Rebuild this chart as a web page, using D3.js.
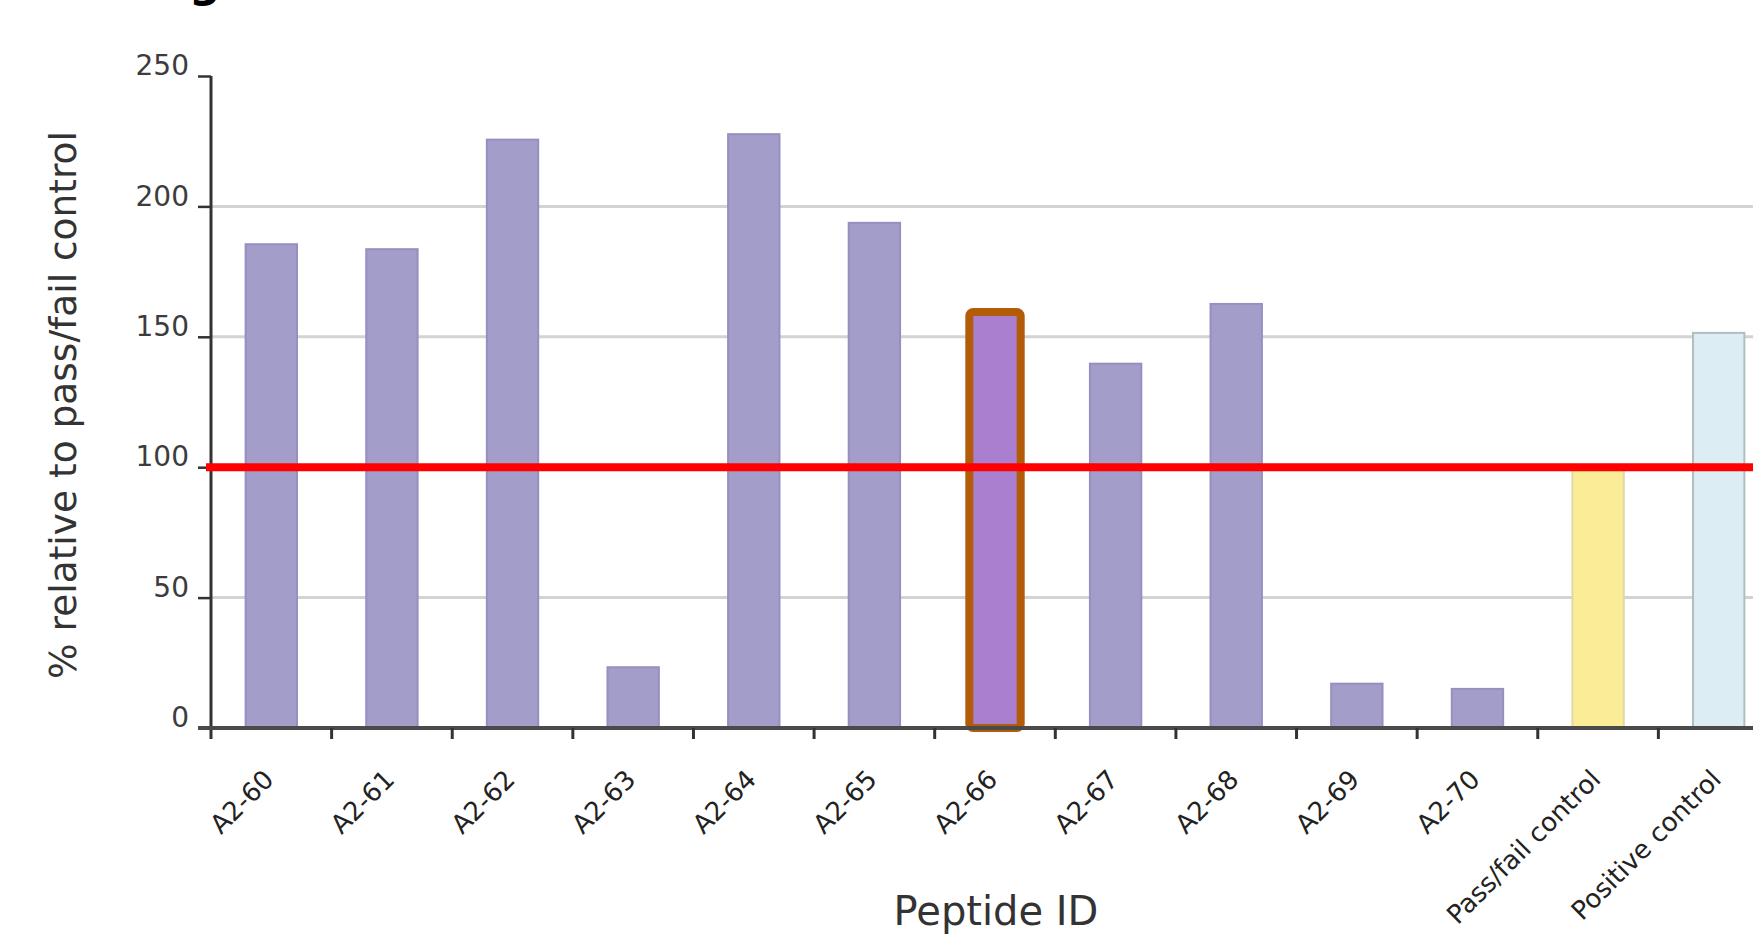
<!DOCTYPE html>
<html>
<head>
<meta charset="utf-8">
<script src="https://cdn.jsdelivr.net/npm/d3@7"></script>
<style>
  html, body { margin: 0; padding: 0; background: #fff; overflow: hidden; }
  svg { display: block; }
</style>
</head>
<body>
<script>
// ---- data ----
const categories = ["A2-60","A2-61","A2-62","A2-63","A2-64","A2-65","A2-66","A2-67","A2-68","A2-69","A2-70","Pass/fail control","Positive control"];
const values     = [185.5, 183.6, 225.6, 23.3, 227.7, 193.7, 159.5, 139.7, 162.6, 17.0, 15.0, 100, 151.5];
const yTicks     = [0, 50, 100, 150, 200, 250];
const gridTicks  = [50, 100, 150, 200];
const threshold  = 100;
const highlighted = "A2-66";
const xTitle = "Peptide ID";
const yTitle = "% relative to pass/fail control";

// ---- layout ----
const W = 1753, H = 934;
const svg = d3.select("body").append("svg").attr("width", W).attr("height", H);

const x = d3.scaleBand().domain(categories).range([211, 1779]).paddingInner(0.574).paddingOuter(0.287);
const y = d3.scaleLinear().domain([0, 250]).range([728, 76]);
const step = x.step(), bw = x.bandwidth();

function fillFor(c) {
  if (c === highlighted) return "#ab7fcf";
  if (c === "Pass/fail control") return "#fbed98";
  if (c === "Positive control") return "#dcedf3";
  return "#a39dc9";
}
function strokeFor(c) {
  if (c === highlighted) return "#b35c07";
  if (c === "Pass/fail control") return "#e2d8a0";
  if (c === "Positive control") return "#b0bec2";
  return "#9690c0";
}

// cropped title fragment at top (cut off in the original figure too)
svg.append("text").attr("x", 189).attr("y", -3)
  .attr("font-family", "DejaVu Sans").attr("font-weight", "bold").attr("font-size", 44)
  .attr("fill", "#000").text("g");

// gridlines
svg.append("g").selectAll("line").data(gridTicks).join("line")
  .attr("x1", x.range()[0]).attr("x2", W)
  .attr("y1", d => y(d)).attr("y2", d => y(d))
  .attr("stroke", "#d3d3d3").attr("stroke-width", 3);

// bars
svg.append("g").selectAll("rect").data(categories.map((c, i) => ({c, v: values[i]}))).join("rect")
  .attr("x", d => x(d.c)).attr("width", bw)
  .attr("y", d => y(d.v)).attr("height", d => y(0) - y(d.v))
  .attr("fill", d => fillFor(d.c))
  .attr("stroke", d => strokeFor(d.c))
  .attr("stroke-width", d => d.c === highlighted ? 8 : 2)
  .attr("rx", d => d.c === highlighted ? 4 : 0);

// y axis
const yAxis = d3.axisLeft(y).tickValues(yTicks).tickSize(13).tickPadding(9);
const gy = svg.append("g").attr("transform", `translate(${x.range()[0]},0)`).call(yAxis);
gy.select(".domain").remove();
gy.selectAll(".tick line").attr("stroke", "#333").attr("stroke-width", 2.5);
gy.selectAll(".tick text")
  .attr("font-family", "DejaVu Sans").attr("font-size", 28).attr("fill", "#3c3c3c")
  .attr("dy", "-0.05em");
svg.append("line").attr("x1", x.range()[0]).attr("x2", x.range()[0])
  .attr("y1", y(250)).attr("y2", y(0) + 11)
  .attr("stroke", "#333").attr("stroke-width", 3);

// x axis line
svg.append("line").attr("x1", x.range()[0] - 13).attr("x2", W)
  .attr("y1", y(0)).attr("y2", y(0))
  .attr("stroke", "#4a4a4a").attr("stroke-width", 4);

// x tick marks at band boundaries
svg.append("g").selectAll("line").data(categories.slice(0, categories.length - 1)).join("line")
  .attr("x1", d => x(d) + bw / 2 + step / 2).attr("x2", d => x(d) + bw / 2 + step / 2)
  .attr("y1", y(0)).attr("y2", y(0) + 11)
  .attr("stroke", "#333").attr("stroke-width", 3);

// x tick labels
const xAxis = d3.axisBottom(x).tickSize(0).tickPadding(0);
const gx = svg.append("g").attr("transform", `translate(0,${y(0)})`).call(xAxis);
gx.select(".domain").remove();
gx.selectAll(".tick text")
  .attr("font-family", "DejaVu Sans").attr("font-size", 26).attr("fill", "#222")
  .attr("text-anchor", "end")
  .attr("dy", 0).attr("y", 0)
  .attr("transform", "translate(4,53) rotate(-45)");

// threshold line
svg.append("line").attr("x1", x.range()[0] - 5).attr("x2", W)
  .attr("y1", y(threshold)).attr("y2", y(threshold))
  .attr("stroke", "#ff0000").attr("stroke-width", 8);

// axis titles
svg.append("text").attr("x", 996).attr("y", 925).attr("text-anchor", "middle")
  .attr("font-family", "DejaVu Sans").attr("font-size", 40).attr("fill", "#333")
  .text(xTitle);
svg.append("text").attr("transform", "translate(76,405) rotate(-90)").attr("text-anchor", "middle")
  .attr("font-family", "DejaVu Sans").attr("font-size", 37.5).attr("fill", "#333")
  .text(yTitle);
</script>
</body>
</html>
